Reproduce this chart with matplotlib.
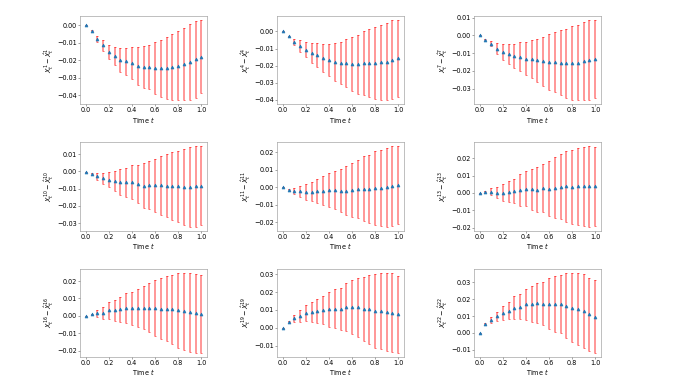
import matplotlib
matplotlib.use("Agg")
import matplotlib.pyplot as plt
import numpy as np

t = [0.0, 0.05, 0.1, 0.15, 0.2, 0.25, 0.3, 0.35, 0.4, 0.45, 0.5,
     0.55, 0.6, 0.65, 0.7, 0.75, 0.8, 0.85, 0.9, 0.95, 1.0]

indices = [1, 4, 7, 10, 11, 13, 16, 19, 22]

mean_1 = [0.0, -0.003, -0.0077, -0.0115, -0.015, -0.0173, -0.0196, -0.0206, -0.0215, -0.0233, -0.0238,
          -0.024, -0.0242, -0.0246, -0.0242, -0.024, -0.023, -0.022, -0.021, -0.0194, -0.0179]
err_1 = [0.0, 0.0003, 0.0018, 0.0033, 0.004, 0.0051, 0.0069, 0.0079, 0.0091, 0.0109, 0.0119,
         0.0127, 0.0149, 0.0165, 0.0177, 0.0188, 0.020, 0.0207, 0.0218, 0.0222, 0.021]

mean_4 = [0.0, -0.0027, -0.0063, -0.0084, -0.0106, -0.0124, -0.0139, -0.0153, -0.0167, -0.0176, -0.0184,
          -0.0184, -0.019, -0.0192, -0.0186, -0.0184, -0.0186, -0.018, -0.0176, -0.0165, -0.0157]
err_4 = [0.0, 0.0003, 0.0017, 0.0037, 0.0044, 0.0059, 0.0071, 0.0082, 0.0095, 0.0111, 0.0125,
         0.0141, 0.0158, 0.0174, 0.0187, 0.020, 0.021, 0.022, 0.0227, 0.0231, 0.0224]

mean_7 = [0.0, -0.0023, -0.0047, -0.0074, -0.0092, -0.0106, -0.0115, -0.0119, -0.013, -0.0132, -0.014,
          -0.0145, -0.0151, -0.0151, -0.0153, -0.0157, -0.0155, -0.0153, -0.0145, -0.0138, -0.0132]
err_7 = [0.0, 0.0003, 0.0014, 0.0031, 0.0044, 0.0056, 0.0068, 0.0081, 0.0094, 0.0105, 0.0121,
         0.0138, 0.0158, 0.017, 0.0183, 0.0194, 0.0209, 0.0212, 0.0221, 0.0223, 0.0219]

mean_10 = [-0.0002, -0.0013, -0.0027, -0.004, -0.0048, -0.0054, -0.006, -0.0062, -0.0063, -0.0073, -0.0083,
           -0.0079, -0.0081, -0.0081, -0.0083, -0.0087, -0.0087, -0.009, -0.0088, -0.0087, -0.0083]
err_10 = [0.0, 0.0003, 0.002, 0.0033, 0.0044, 0.0059, 0.0074, 0.0085, 0.0098, 0.0112, 0.013,
          0.0141, 0.0156, 0.0169, 0.0182, 0.0197, 0.0206, 0.0222, 0.0231, 0.0233, 0.0228]

mean_11 = [0.0, -0.0013, -0.0021, -0.0023, -0.0025, -0.0025, -0.0023, -0.0019, -0.0017, -0.0015, -0.0019,
           -0.0019, -0.0015, -0.0011, -0.0008, -0.0008, -0.0004, -0.0002, 0.0, 0.0006, 0.0011]
err_11 = [0.0, 0.0003, 0.0019, 0.0032, 0.0046, 0.0054, 0.0069, 0.0084, 0.0098, 0.011, 0.0121,
          0.0139, 0.0155, 0.0165, 0.0185, 0.0193, 0.0209, 0.0217, 0.0225, 0.0228, 0.0223]

mean_13 = [-0.0001, 0.0006, 0.0008, 0.0002, 0.0002, 0.0008, 0.0012, 0.0017, 0.0025, 0.0021, 0.0019,
           0.0027, 0.0025, 0.0029, 0.0035, 0.0037, 0.0033, 0.0037, 0.0037, 0.0037, 0.0037]
err_13 = [0.0, 0.0003, 0.002, 0.0034, 0.0047, 0.0058, 0.0071, 0.009, 0.0101, 0.0118, 0.0132,
          0.0138, 0.0159, 0.0176, 0.0188, 0.0203, 0.0214, 0.022, 0.0229, 0.0232, 0.0228]

mean_16 = [-0.0003, 0.0008, 0.0015, 0.0019, 0.0031, 0.0033, 0.0037, 0.0044, 0.0044, 0.0046, 0.0048,
           0.0048, 0.0046, 0.0042, 0.004, 0.0038, 0.0031, 0.0027, 0.0021, 0.0015, 0.001]
err_16 = [0.0, 0.0003, 0.0019, 0.0034, 0.0048, 0.006, 0.0072, 0.0087, 0.0096, 0.0111, 0.0122,
          0.0143, 0.0159, 0.0173, 0.0187, 0.0197, 0.0213, 0.0222, 0.0227, 0.0228, 0.0222]

mean_19 = [0.0, 0.0034, 0.0053, 0.0068, 0.0083, 0.009, 0.0094, 0.01, 0.0103, 0.0107, 0.0107,
           0.0118, 0.0118, 0.0115, 0.0105, 0.0103, 0.0094, 0.0092, 0.009, 0.0085, 0.0075]
err_19 = [0.0, 0.0003, 0.0019, 0.0033, 0.0045, 0.0055, 0.0067, 0.0078, 0.0096, 0.011, 0.0119,
          0.0136, 0.015, 0.0164, 0.0179, 0.0191, 0.0205, 0.0213, 0.022, 0.0221, 0.0216]

mean_22 = [0.0, 0.0054, 0.0078, 0.01, 0.012, 0.0133, 0.0151, 0.0157, 0.0171, 0.0173, 0.0177,
           0.0175, 0.0175, 0.0171, 0.0171, 0.0163, 0.0151, 0.0145, 0.0129, 0.0111, 0.0097]
err_22 = [0.0, 0.0003, 0.0016, 0.0027, 0.0042, 0.0052, 0.0069, 0.0077, 0.0093, 0.0108, 0.0119,
          0.0126, 0.015, 0.0166, 0.0172, 0.0191, 0.0205, 0.0214, 0.0221, 0.0217, 0.0216]

means = [mean_1, mean_4, mean_7, mean_10, mean_11, mean_13, mean_16, mean_19, mean_22]
errs = [err_1, err_4, err_7, err_10, err_11, err_13, err_16, err_19, err_22]

DPI = 47
fig, axes = plt.subplots(3, 3, figsize=(675 / DPI, 388 / DPI), dpi=DPI)
fig.subplots_adjust(left=0.1185, right=0.8904, top=0.9588, bottom=0.0799,
                    wspace=0.55, hspace=0.427)

for ax, idx, m, e in zip(axes.flat, indices, means, errs):
    _, caps, bars = ax.errorbar(t, m, yerr=e, fmt='^', color='#1f77b4',
                                markersize=4.5, ecolor='red', elinewidth=2.7,
                                capsize=2.2, capthick=1.0, zorder=3)
    for b in bars:
        b.set_alpha(0.45)
    for c in caps:
        c.set_alpha(0.85)
    ax.set_xlabel('Time $t$', labelpad=2.5)
    ax.set_ylabel(r'$X_t^{%d}-\hat{X}_t^{%d}$' % (idx, idx), labelpad=2.5)
    ax.set_xticks([0.0, 0.2, 0.4, 0.6, 0.8, 1.0])
    ax.tick_params(length=2.5, pad=1.8, color='#555555')
    for s in ax.spines.values():
        s.set_edgecolor('#888888')

fig.savefig('out.png', dpi=DPI)
